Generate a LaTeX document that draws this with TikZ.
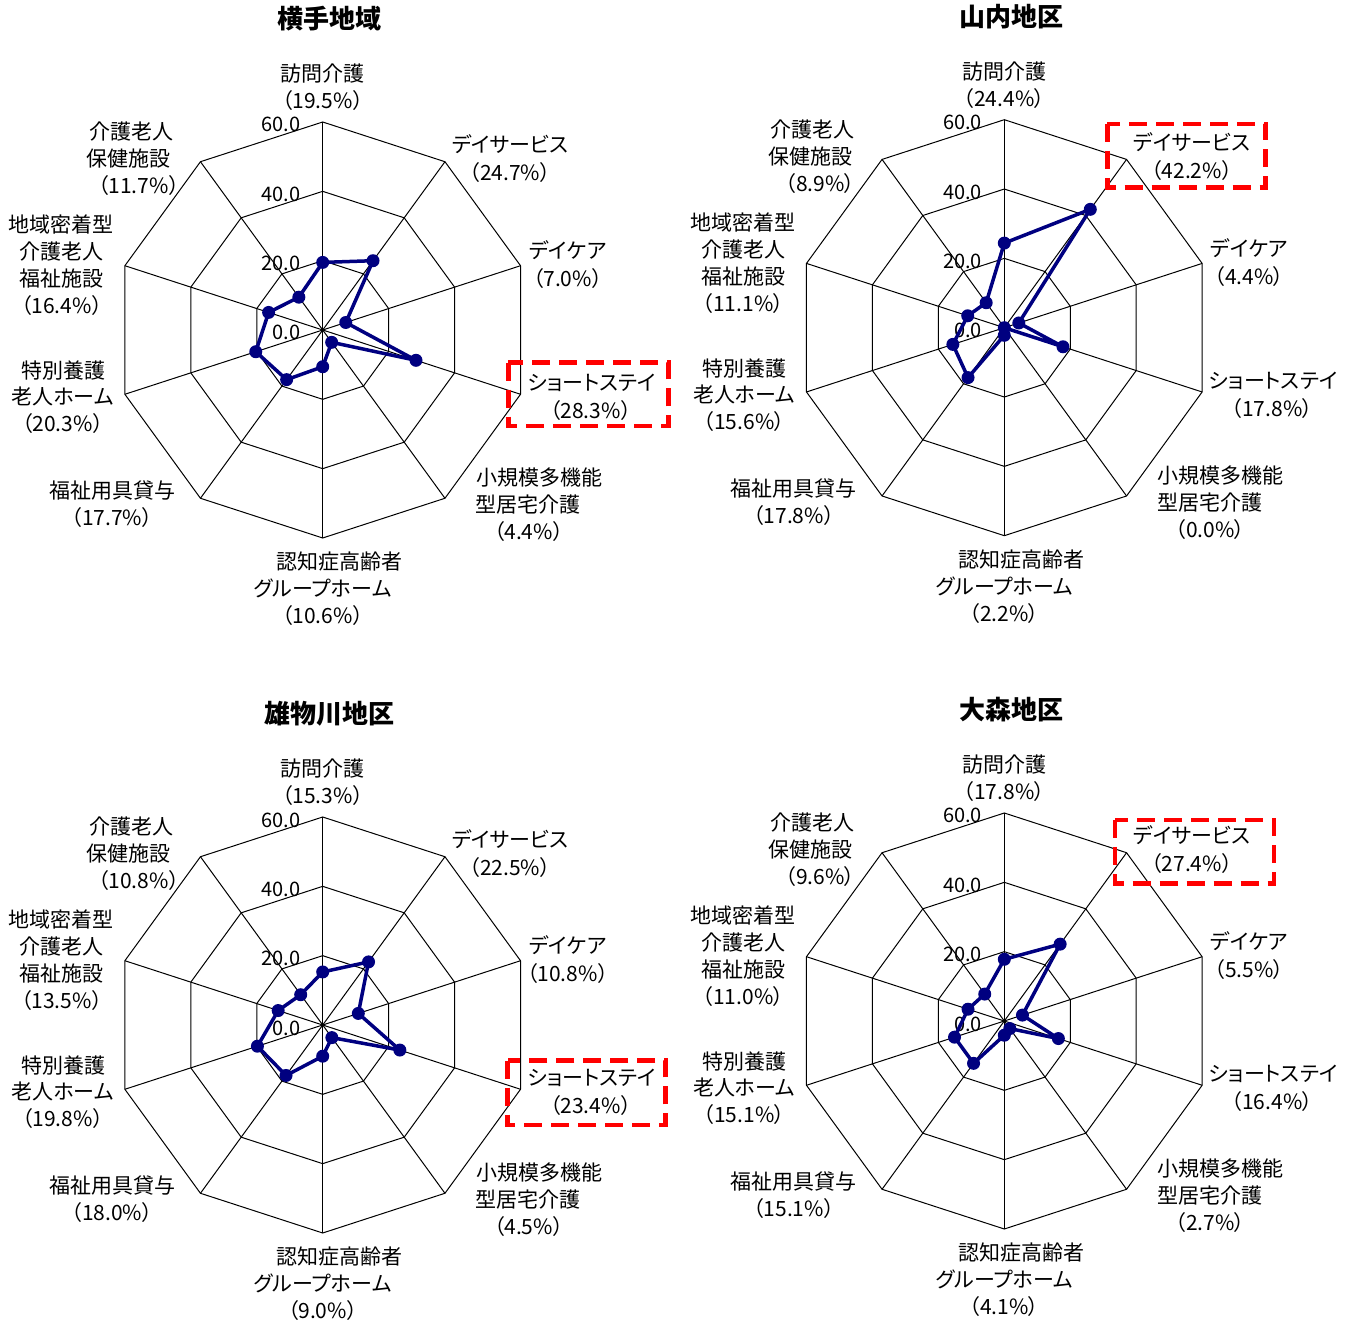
\documentclass[tikz,border=0pt]{standalone}
\usepackage{fontspec}
\setmainfont{Noto Sans CJK JP}[RawFeature=+palt]
\definecolor{chartnavy}{RGB}{0,0,128}
\definecolor{boxred}{RGB}{255,0,0}
\tikzset{
  gridline/.style={draw=black, line width=0.5pt},
  lbl/.style={inner sep=0pt, text height=9.24pt, text depth=1.26pt, font=\fontsize{10.5}{12}\selectfont},
  ttl/.style={inner sep=0pt, text height=11.44pt, text depth=1.56pt, font=\bfseries\fontsize{13}{15}\selectfont},
  axnum/.style={inner sep=0pt, anchor=base east, font=\fontsize{10}{12}\selectfont},
  dot/.style={circle, fill=chartnavy, inner sep=0pt, minimum size=6.5pt},
  dataline/.style={draw=chartnavy, line width=1.75pt, line join=round},
  hibox/.style={draw=boxred, line width=2.25pt, dash pattern=on 9pt off 4.5pt}
}
\newcommand\radarchart[3]{%
  \node[ttl] (#1-title) at (7,-311) {#2};
  \foreach \k in {1,2,3}{
    \draw[gridline] (-90:{69.333*\k}) -- (-54:{69.333*\k}) -- (-18:{69.333*\k}) -- (18:{69.333*\k}) -- (54:{69.333*\k}) -- (90:{69.333*\k}) -- (126:{69.333*\k}) -- (162:{69.333*\k}) -- (198:{69.333*\k}) -- (234:{69.333*\k}) -- cycle;
  }
  \foreach \i in {0,...,9} \draw[gridline] (0,0) -- ({-90+36*\i}:208);
  \foreach \k/\t in {0/0.0,1/20.0,2/40.0,3/60.0} \node[axnum] (#1-ax\k) at (-22,{-69.333*\k+10}) {\t};
  \foreach \v [count=\n from 0] in {#3} {%
    \expandafter\xdef\csname rv\n\endcsname{\v}%
    \node[dot] (#1-p\n) at ({-90+36*\n}:{\v*208/60}) {};
  }
  \draw[dataline] (#1-p0.center) -- (#1-p1.center) -- (#1-p2.center) -- (#1-p3.center) -- (#1-p4.center) -- (#1-p5.center) -- (#1-p6.center) -- (#1-p7.center) -- (#1-p8.center) -- (#1-p9.center) -- cycle;
  \node[lbl] (#1-l0a) at (0,-256.5) {訪問介護};
  \node[lbl] (#1-l0b) at (0,-229.5) {（\csname rv0\endcsname\%）};
  \node[lbl] (#1-l1a) at (187.5,-185.5) {デイサービス};
  \node[lbl] (#1-l1b) at (187.5,-157.5) {（\csname rv1\endcsname\%）};
  \node[lbl] (#1-l2a) at (245,-79) {デイケア};
  \node[lbl] (#1-l2b) at (245,-51) {（\csname rv2\endcsname\%）};
  \node[lbl] (#1-l3a) at (269,53) {ショートステイ};
  \node[lbl] (#1-l3b) at (268,81) {（\csname rv3\endcsname\%）};
  \node[lbl] (#1-l4a) at (216.5,147.5) {小規模多機能};
  \node[lbl] (#1-l4b) at (205.5,174.5) {型居宅介護};
  \node[lbl] (#1-l4c) at (206,201.5) {（\csname rv4\endcsname\%）};
  \node[lbl] (#1-l5a) at (17,231.5) {認知症高齢者};
  \node[lbl] (#1-l5b) at (0,258.5) {グループホーム};
  \node[lbl] (#1-l5c) at (0,285.5) {（\csname rv5\endcsname\%）};
  \node[lbl] (#1-l6a) at (-210.5,160.5) {福祉用具貸与};
  \node[lbl] (#1-l6b) at (-210.5,187.5) {（\csname rv6\endcsname\%）};
  \node[lbl] (#1-l7a) at (-259.5,41) {特別養護};
  \node[lbl] (#1-l7b) at (-260,67) {老人ホーム};
  \node[lbl] (#1-l7c) at (-260,94) {（\csname rv7\endcsname\%）};
  \node[lbl] (#1-l8a) at (-261.5,-105.5) {地域密着型};
  \node[lbl] (#1-l8b) at (-261,-78.5) {介護老人};
  \node[lbl] (#1-l8c) at (-261,-51.5) {福祉施設};
  \node[lbl] (#1-l8d) at (-261,-24.5) {（\csname rv8\endcsname\%）};
  \node[lbl] (#1-l9a) at (-191.5,-198) {介護老人};
  \node[lbl] (#1-l9b) at (-194,-171) {保健施設};
  \node[lbl] (#1-l9c) at (-184,-144) {（\csname rv9\endcsname\%）};
}
\begin{document}
\begin{tikzpicture}[x=0.5pt, y=-0.5pt]
\useasboundingbox (0,0) rectangle (1355,1325);
\begin{scope}[shift={(322.7,330)}]
  \radarchart{A}{横手地域}{19.5,24.7,7.0,28.3,4.4,10.6,17.7,20.3,16.4,11.7}
\end{scope}
\begin{scope}[shift={(1004.3,327.7)}]
  \radarchart{B}{山内地区}{24.4,42.2,4.4,17.8,0.0,2.2,17.8,15.6,11.1,8.9}
\end{scope}
\begin{scope}[shift={(322.7,1025)}]
  \radarchart{C}{雄物川地区}{15.3,22.5,10.8,23.4,4.5,9.0,18.0,19.8,13.5,10.8}
\end{scope}
\begin{scope}[shift={(1004.3,1021)}]
  \radarchart{D}{大森地区}{17.8,27.4,5.5,16.4,2.7,4.1,15.1,15.1,11.0,9.6}
\end{scope}
\draw[hibox] (508.3,362.7) rectangle (668.3,426);
\draw[hibox] (1107.3,124) rectangle (1265.7,187.7);
\draw[hibox] (507.7,1060.7) rectangle (665.7,1125);
\draw[hibox] (1115,820) rectangle (1274,883.3);
\end{tikzpicture}
\end{document}
